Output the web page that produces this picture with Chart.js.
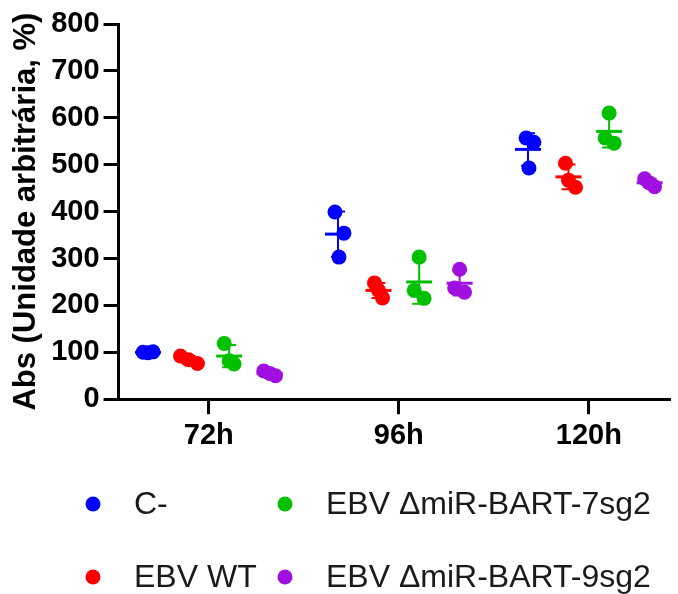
<!DOCTYPE html>
<html>
<head>
<meta charset="utf-8">
<script src="https://cdn.jsdelivr.net/npm/chart.js@4.4.1/dist/chart.umd.min.js"></script>
<style>
  html, body { margin: 0; padding: 0; background: #fff; }
  #wrap { width: 678px; height: 594px; }
</style>
</head>
<body>
<div id="wrap"><canvas id="c" width="678" height="594"></canvas></div>
<script>
// ---- data ----
const timepoints = ['72h', '96h', '120h'];
const seriesNames = ['C-', 'EBV WT', 'EBV \u0394miR-BART-7sg2', 'EBV \u0394miR-BART-9sg2'];
const seriesColors = ['#0000ff', '#ff0000', '#00c000', '#a010e0'];
// replicate values per timepoint
const cNeg   = [[100, 99, 101], [399, 354, 303], [557, 548, 493]];
const ebvWT  = [[92, 84, 76],   [248, 232, 216], [503, 467, 452]];
const bart7  = [[119, 82, 75],  [303, 232, 215], [610, 557, 546]];
const bart9  = [[60, 55, 50],   [277, 237, 228], [470, 461, 453]];
// small horizontal scatter of replicates (in category units)
const jitterC  = [[-0.026, 0, 0.026], [-0.016, 0.031, 0.005], [-0.01, 0.031, 0.005]];
const jitterWT = [[-0.042, 0, 0.047], [-0.021, 0, 0.021], [-0.016, 0, 0.037]];
const jitter7  = [[-0.026, 0, 0.026], [0, -0.026, 0.026], [0, -0.021, 0.026]];
const jitter9  = [[-0.031, 0, 0.031], [0, -0.026, 0.026], [-0.026, 0, 0.026]];
const yTicks = [0, 100, 200, 300, 400, 500, 600, 700, 800];

const allValues = [cNeg, ebvWT, bart7, bart9];
const allJitter = [jitterC, jitterWT, jitter7, jitter9];
const dodge = [-0.32, -0.107, 0.107, 0.32];

const FONT = "'Liberation Sans', Arial, Helvetica, sans-serif";

const datasets = allValues.map((vals, s) => {
  const pts = [];
  vals.forEach((reps, g) => {
    reps.forEach((v, r) => pts.push({ x: g + dodge[s] + allJitter[s][g][r], y: v }));
  });
  return {
    label: seriesNames[s],
    data: pts,
    backgroundColor: seriesColors[s],
    borderColor: seriesColors[s],
    borderWidth: 0,
    pointRadius: 7.5,
    pointHoverRadius: 7.5,
    groupValues: vals,
    groupOffset: dodge[s]
  };
});

const meanSD = {
  id: 'meanSD',
  afterDatasetsDraw(chart) {
    const ctx = chart.ctx, xs = chart.scales.x, ys = chart.scales.y;
    ctx.save();
    chart.data.datasets.forEach(ds => {
      ds.groupValues.forEach((reps, g) => {
        const n = reps.length;
        const m = reps.reduce((a, b) => a + b, 0) / n;
        const sd = Math.sqrt(reps.reduce((a, b) => a + (b - m) * (b - m), 0) / (n - 1));
        const cx = xs.getPixelForValue(g + ds.groupOffset);
        const ym = ys.getPixelForValue(m);
        const yt = ys.getPixelForValue(m + sd);
        const yb = ys.getPixelForValue(m - sd);
        ctx.strokeStyle = ds.borderColor;
        ctx.lineWidth = 2;
        ctx.beginPath();
        ctx.moveTo(cx, yt); ctx.lineTo(cx, yb);
        ctx.moveTo(cx - 7, yt); ctx.lineTo(cx + 7, yt);
        ctx.moveTo(cx - 7, yb); ctx.lineTo(cx + 7, yb);
        ctx.stroke();
        ctx.lineWidth = 3;
        ctx.beginPath();
        ctx.moveTo(cx - 13, ym); ctx.lineTo(cx + 13, ym);
        ctx.stroke();
      });
    });
    ctx.restore();
  }
};

const legend2col = {
  id: 'legend2col',
  afterDraw(chart) {
    const ctx = chart.ctx;
    ctx.save();
    ctx.font = "32px " + FONT;
    ctx.textBaseline = 'middle';
    ctx.textAlign = 'left';
    chart.data.datasets.forEach((ds, i) => {
      const col = Math.floor(i / 2), row = i % 2;
      const x = 93 + col * 192, y = 504 + row * 73;
      ctx.fillStyle = ds.backgroundColor;
      ctx.beginPath();
      ctx.arc(x, y, 7.5, 0, Math.PI * 2);
      ctx.fill();
      ctx.fillStyle = '#1a1a1a';
      ctx.fillText(ds.label, x + 41, y + 1);
    });
    ctx.restore();
  }
};

new Chart(document.getElementById('c'), {
  type: 'scatter',
  data: { datasets },
  plugins: [meanSD, legend2col],
  options: {
    responsive: false,
    animation: false,
    devicePixelRatio: 1,
    layout: { padding: { left: 8, right: 0, top: 24, bottom: 137 } },
    plugins: { legend: { display: false }, tooltip: { enabled: false } },
    scales: {
      x: {
        type: 'linear',
        min: -0.475,
        max: 2.43,
        afterBuildTicks(scale) { scale.ticks = timepoints.map((t, i) => ({ value: i })); },
        ticks: {
          callback: (v) => timepoints[v],
          font: { family: FONT, size: 29, weight: 'bold' },
          color: '#000',
          padding: 4,
          maxRotation: 0
        },
        grid: { display: true, drawOnChartArea: false, drawTicks: true, tickLength: 15, tickWidth: 3, tickColor: '#000' },
        border: { display: true, width: 3, color: '#000' }
      },
      y: {
        min: 0,
        max: 800,
        afterBuildTicks(scale) { scale.ticks = yTicks.map(v => ({ value: v })); },
        ticks: {
          font: { family: FONT, size: 29, weight: 'bold' },
          color: '#000',
          padding: 4
        },
        grid: { display: true, drawOnChartArea: false, drawTicks: true, tickLength: 15, tickWidth: 3, tickColor: '#000' },
        border: { display: true, width: 3, color: '#000' },
        title: {
          display: true,
          text: 'Abs (Unidade arbitr\u00e1ria, %)',
          font: { family: FONT, size: 31, weight: 'bold' },
          color: '#000',
          padding: { top: 0, bottom: 2 }
        }
      }
    }
  }
});
</script>
</body>
</html>
